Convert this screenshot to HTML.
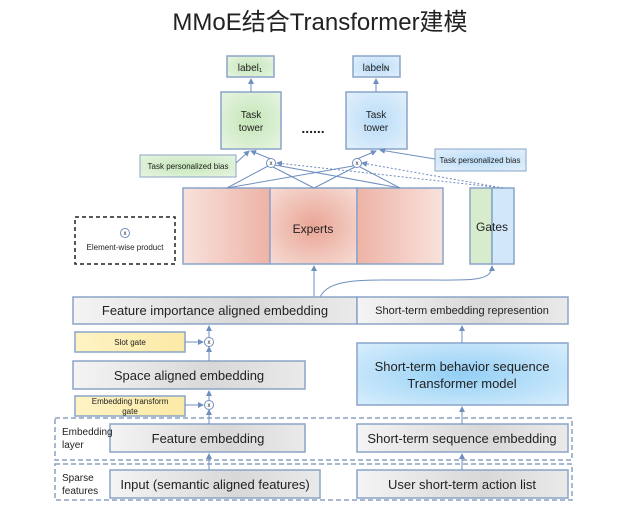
<!DOCTYPE html>
<html><head><meta charset="utf-8"><style>
body{margin:0;background:#fff}
svg{display:block}
text{font-family:"Liberation Sans","Noto Sans CJK SC",sans-serif;fill:#222}
</style></head><body>
<svg width="640" height="515" viewBox="0 0 640 515" xmlns="http://www.w3.org/2000/svg">
<defs>
<linearGradient id="gr" x1="0" x2="1" y1="0" y2="0"><stop offset="0" stop-color="#f4f4f4"/><stop offset="0.6" stop-color="#d8d8d8"/><stop offset="1" stop-color="#eaeaea"/></linearGradient>
<radialGradient id="gn" cx="0.5" cy="0.5" r="0.7"><stop offset="0" stop-color="#c4e6b8"/><stop offset="1" stop-color="#e8f5e2"/></radialGradient>
<radialGradient id="bl" cx="0.5" cy="0.5" r="0.7"><stop offset="0" stop-color="#b9dcf7"/><stop offset="1" stop-color="#e3f0fc"/></radialGradient>
<radialGradient id="tb" cx="0.5" cy="0.5" r="0.7"><stop offset="0" stop-color="#93cff5"/><stop offset="1" stop-color="#d8eefc"/></radialGradient>
<radialGradient id="rd" cx="0.5" cy="0.5" r="0.7"><stop offset="0" stop-color="#eaa595"/><stop offset="1" stop-color="#f6dcd5"/></radialGradient>
<linearGradient id="rl" x1="0" x2="1"><stop offset="0" stop-color="#f8e2dc"/><stop offset="1" stop-color="#eeb3a6"/></linearGradient>
<linearGradient id="rr" x1="0" x2="1"><stop offset="0" stop-color="#eeb3a6"/><stop offset="1" stop-color="#f8e2dc"/></linearGradient>
<linearGradient id="yl" x1="0" x2="1"><stop offset="0" stop-color="#fff3c4"/><stop offset="1" stop-color="#fbe9a6"/></linearGradient>
<marker id="a" markerWidth="6" markerHeight="6" refX="5" refY="3" orient="auto"><path d="M0,0 L6,3 L0,6z" fill="#6f8fbf"/></marker>
</defs>
<text x="320" y="30" font-size="24" text-anchor="middle">MMoE结合Transformer建模</text>

<g stroke="#8aa4c8" stroke-width="1.5">
<rect x="227" y="56" width="47" height="21" fill="url(#gn)"/>
<rect x="353" y="56" width="47" height="21" fill="url(#bl)"/>
<rect x="221" y="92" width="60" height="57" fill="url(#gn)"/>
<rect x="346" y="92" width="61" height="57" fill="url(#bl)"/>
<rect x="140" y="155" width="96" height="22" fill="url(#gn)" stroke-width="1"/>
<rect x="435" y="149" width="91" height="22" fill="url(#bl)" stroke-width="1"/>
<rect x="183" y="188" width="87" height="76" fill="url(#rl)"/>
<rect x="270" y="188" width="87" height="76" fill="url(#rd)"/>
<rect x="357" y="188" width="86" height="76" fill="url(#rr)"/>
<rect x="470" y="188" width="22" height="76" fill="#d6eccc"/>
<rect x="492" y="188" width="22" height="76" fill="#d3e7fa"/>
</g>
<g font-size="10" text-anchor="middle">
<text x="250" y="71">label₁</text><text x="376" y="71">labelɴ</text>
<text x="251" y="118">Task</text><text x="251" y="131">tower</text>
<text x="376" y="118">Task</text><text x="376" y="131">tower</text>
<text x="188" y="169" font-size="8">Task personalized bias</text>
<text x="480" y="163" font-size="8">Task personalized bias</text>
</g>
<text x="313" y="133" font-size="14" text-anchor="middle" font-weight="bold">......</text>
<text x="313" y="233" font-size="12" text-anchor="middle">Experts</text>
<text x="492" y="231" font-size="12" text-anchor="middle">Gates</text>

<g stroke="#6f8fbf" stroke-width="1" fill="none">
<line x1="251" y1="92" x2="251" y2="79" marker-end="url(#a)"/>
<line x1="376" y1="92" x2="376" y2="79" marker-end="url(#a)"/>
<line x1="271" y1="159" x2="251" y2="151" marker-end="url(#a)"/>
<line x1="236" y1="163" x2="249" y2="151" marker-end="url(#a)"/>
<line x1="357" y1="159" x2="376" y2="151" marker-end="url(#a)"/>
<line x1="435" y1="159" x2="380" y2="150" marker-end="url(#a)"/>
<polyline points="227,188 268,166"/><polyline points="314,188 273,167"/><polyline points="400,188 275,165"/>
<polyline points="227,188 353,166"/><polyline points="314,188 355,167"/><polyline points="400,188 360,167"/>
<line x1="503" y1="188" x2="277" y2="163" stroke-dasharray="2,2" marker-end="url(#a)"/>
<line x1="503" y1="188" x2="362" y2="163" stroke-dasharray="2,2" marker-end="url(#a)"/>
<line x1="314" y1="297" x2="314" y2="266" marker-end="url(#a)"/>
<path d="M320,297 C330,278 360,280 420,280 C470,280 492,282 492,266" marker-end="url(#a)"/>
</g>
<g stroke="#6f8fbf" fill="#fff"><circle cx="271" cy="163" r="4.5"/><circle cx="357" cy="163" r="4.5"/></g>
<g font-size="6" text-anchor="middle"><text x="271" y="165">x</text><text x="357" y="165">x</text></g>

<rect x="75" y="217" width="100" height="47" fill="none" stroke="#222" stroke-width="1.5" stroke-dasharray="4,3"/>
<circle cx="125" cy="233" r="4.5" fill="#fff" stroke="#6f8fbf"/><text x="125" y="235" font-size="6" text-anchor="middle">x</text>
<text x="125" y="250" font-size="8" text-anchor="middle">Element-wise product</text>

<g stroke="#8aa0bf" stroke-width="1.5" stroke-dasharray="5,3" fill="none">
<rect x="55" y="418" width="517" height="42"/>
<rect x="55" y="464" width="517" height="36"/>
</g>
<g stroke="#8aa4c8" stroke-width="1.5">
<rect x="73" y="297" width="284" height="27" fill="url(#gr)"/>
<rect x="357" y="297" width="211" height="27" fill="url(#gr)"/>
<rect x="75" y="332" width="110" height="20" fill="url(#yl)"/>
<rect x="73" y="361" width="232" height="28" fill="url(#gr)"/>
<rect x="75" y="396" width="110" height="20" fill="url(#yl)"/>
<rect x="357" y="343" width="211" height="62" fill="url(#tb)"/>
<rect x="110" y="424" width="195" height="28" fill="url(#gr)"/>
<rect x="357" y="424" width="211" height="28" fill="url(#gr)"/>
<rect x="110" y="470" width="210" height="28" fill="url(#gr)"/>
<rect x="357" y="470" width="211" height="28" fill="url(#gr)"/>
</g>
<g stroke="#6f8fbf" fill="none">
<line x1="209" y1="470" x2="209" y2="454" marker-end="url(#a)"/>
<line x1="209" y1="424" x2="209" y2="410" marker-end="url(#a)"/>
<line x1="209" y1="401" x2="209" y2="391" marker-end="url(#a)"/>
<line x1="209" y1="361" x2="209" y2="347" marker-end="url(#a)"/>
<line x1="209" y1="338" x2="209" y2="326" marker-end="url(#a)"/>
<line x1="185" y1="342" x2="203" y2="342" marker-end="url(#a)"/>
<line x1="185" y1="405" x2="203" y2="405" marker-end="url(#a)"/>
<line x1="462" y1="470" x2="462" y2="454" marker-end="url(#a)"/>
<line x1="462" y1="424" x2="462" y2="407" marker-end="url(#a)"/>
<line x1="462" y1="343" x2="462" y2="326" marker-end="url(#a)"/>
</g>
<g stroke="#6f8fbf" fill="#fff"><circle cx="209" cy="342" r="4.5"/><circle cx="209" cy="405" r="4.5"/></g>
<g font-size="6" text-anchor="middle"><text x="209" y="344">x</text><text x="209" y="407">x</text></g>

<g text-anchor="middle">
<text x="215" y="315" font-size="13">Feature importance aligned embedding</text>
<text x="462" y="314" font-size="11">Short-term embedding represention</text>
<text x="130" y="345" font-size="8">Slot gate</text>
<text x="189" y="380" font-size="13">Space aligned embedding</text>
<text x="130" y="404" font-size="8">Embedding transform</text>
<text x="130" y="414" font-size="8">gate</text>
<text x="462" y="371" font-size="13">Short-term behavior sequence</text>
<text x="462" y="388" font-size="13">Transformer model</text>
<text x="208" y="443" font-size="13">Feature embedding</text>
<text x="462" y="443" font-size="13">Short-term sequence embedding</text>
<text x="215" y="489" font-size="13">Input (semantic aligned features)</text>
<text x="462" y="489" font-size="13">User short-term action list</text>
</g>
<g font-size="10">
<text x="62" y="435">Embedding</text><text x="62" y="448">layer</text>
<text x="62" y="481">Sparse</text><text x="62" y="494">features</text>
</g>
</svg>
</body></html>
